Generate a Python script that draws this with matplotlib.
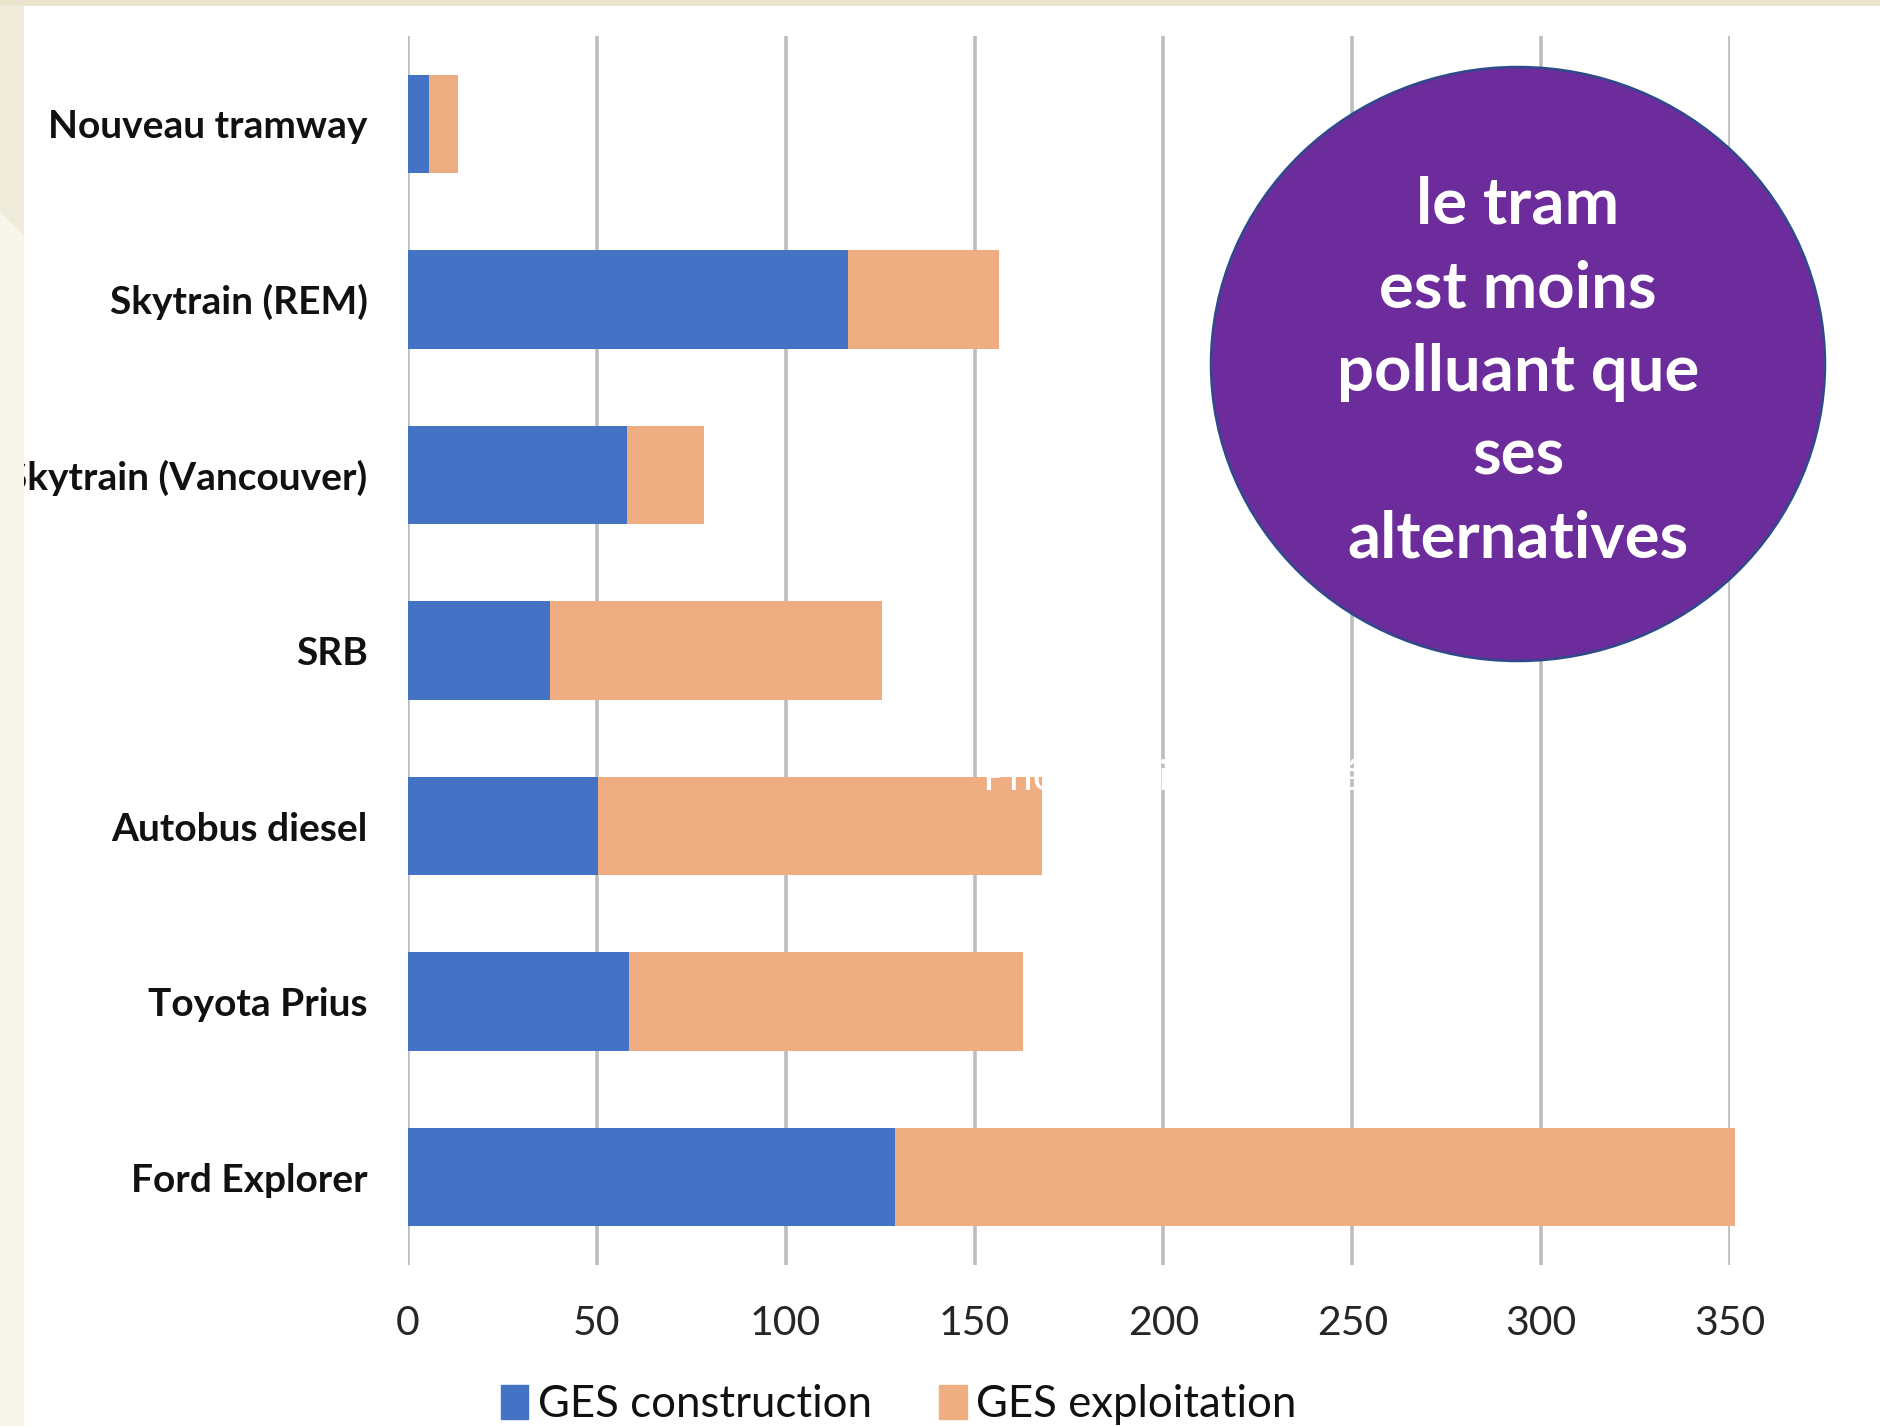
import matplotlib
matplotlib.use("Agg")
import matplotlib.pyplot as plt
from matplotlib.patches import Ellipse, Rectangle, Polygon, Patch
import numpy as np

# valeurs (GES par mode)
categories = ["Nouveau tramway", "Skytrain (REM)", "Skytrain (Vancouver)", "SRB",
              "Autobus diesel", "Toyota Prius", "Ford Explorer"]
ges_construction = [5.6, 116.5, 58.0, 37.7, 50.4, 58.4, 129.0]
ges_exploitation = [7.7, 40.0, 20.4, 87.7, 117.5, 104.5, 222.3]
xticks = [0, 50, 100, 150, 200, 250, 300, 350]
series_names = ["GES construction", "GES exploitation"]
bulle = ["le tram", "est moins", "polluant que", "ses", "alternatives"]

W, H = 1880, 1426
BLEU = "#4472c4"
ORANGE = "#eeae81"
GRIS = "#bdbdbd"

plt.rcParams['font.family'] = ['Lato', 'DejaVu Sans']

fig = plt.figure(figsize=(W / 100, H / 100), dpi=100, facecolor="white")

def fx(px):
    return px / W

def fy(py):
    return 1 - py / H

ax = fig.add_axes([fx(408), fy(1265), fx(1730) - fx(408), fy(36) - fy(1265)])
ax.set_facecolor("none")

y = np.arange(len(categories))
ax.barh(y, ges_construction, height=0.56, color=BLEU, zorder=3, clip_on=False)
ax.barh(y, ges_exploitation, left=ges_construction, height=0.56, color=ORANGE,
        zorder=3, clip_on=False)

ax.set_xlim(0, 350)
ax.set_ylim(len(categories) - 0.5, -0.5)
ax.set_xticks(xticks)
ax.set_xticklabels([str(v) for v in xticks])
ax.set_yticks(y)
ax.set_yticklabels(categories, fontweight="bold")
for sp in ax.spines.values():
    sp.set_visible(False)
ax.grid(axis="x", color=GRIS, linewidth=2.6, zorder=1)
ax.tick_params(axis="x", length=0, pad=29, labelsize=29.5, labelcolor="#262626")
ax.tick_params(axis="y", length=0, pad=29, labelsize=28, labelcolor="#111111")

# legende en bas
handles = [Patch(color=BLEU), Patch(color=ORANGE)]
fig.legend(handles, series_names, loc="lower left", bbox_to_anchor=(fx(479), fy(1447)),
           ncol=2, frameon=False, fontsize=31.5, handlelength=0.62, handleheight=0.8,
           handletextpad=0.22, columnspacing=1.55, borderpad=0, labelcolor="#111111")

# texte blanc (presque invisible) au-dessus de la barre Autobus
fig.text(fx(983), fy(790), "Photo : Ville de Québec", color="white", fontsize=31,
         va="baseline", ha="left", zorder=4)

# bulle violette
fig.patches.append(Ellipse((fx(1518), fy(364)), fx(614), 594 / H, transform=fig.transFigure,
                           facecolor="#6d2c9b", edgecolor="#2e4a8a", linewidth=1.8, zorder=5))
for i, ligne in enumerate(bulle):
    fig.text(fx(1518), fy(224 + i * 83.5), ligne, color="white", fontsize=47,
             fontweight="bold", ha="center", va="baseline", zorder=6)

# fond de la diapo a gauche et en haut
fig.patches.append(Rectangle((0, 0), fx(24), 1, transform=fig.transFigure,
                             facecolor="#f8f6ea", edgecolor="none", zorder=8))
fig.patches.append(Polygon([(0, fy(6)), (fx(24), fy(6)), (fx(24), fy(235)), (0, fy(212))],
                           closed=True, transform=fig.transFigure,
                           facecolor="#efebdb", edgecolor="none", zorder=9))
fig.patches.append(Rectangle((0, fy(6)), 1, 6 / H, transform=fig.transFigure,
                             facecolor="#ebe4cd", edgecolor="none", zorder=10))

fig.savefig("out.png", dpi=100, facecolor=fig.get_facecolor())
